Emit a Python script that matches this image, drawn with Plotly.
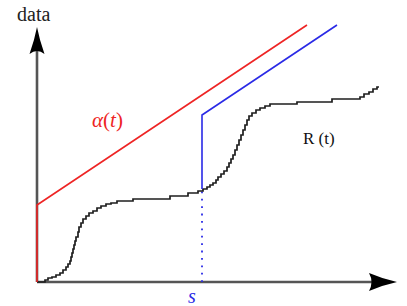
import plotly.graph_objects as go

# ---- data (units: t along horizontal, value along vertical) ----
t_R = [0, 8, 11, 15, 19, 23, 26, 29, 31, 33, 34, 35, 36, 37, 38, 39, 41, 42, 44, 46,
       49, 52, 56, 60, 64, 69, 74, 80, 96, 133, 151, 161, 166, 170, 173, 176, 179, 181,
       184, 187, 190, 192, 194, 196, 198, 200, 202, 204, 206, 208, 210, 212, 215, 219,
       223, 228, 233, 260, 295, 323, 327, 332, 336, 340, 342]
R_vals = [0, 2, 4, 5, 7, 9, 12, 15, 18, 21, 25, 29, 33, 37, 41, 45, 50, 55, 59, 63,
          66, 69, 71, 74, 76, 78, 79, 81, 83, 86, 89, 91, 93, 95, 97, 99, 102, 105,
          108, 111, 115, 119, 123, 127, 132, 137, 142, 147, 152, 157, 162, 166, 169, 172,
          174, 176, 178, 180, 183, 185, 188, 190, 193, 195, 195]

t_alpha = [0, 0, 270]
alpha_vals = [0, 77, 257]

s = 165
t_blue = [s, s, 300]
blue_vals = [93, 167, 257]

x_tip = 360   # end of horizontal axis arrow
y_tip = 255   # end of vertical axis arrow

RED = "#ee2424"
BLUE = "#2a2ae6"
SERIF = "Liberation Serif"

fig = go.Figure()
fig.add_trace(go.Scatter(x=[s, s], y=[0, blue_vals[0]], mode="lines",
                         line=dict(color=BLUE, width=1.8, dash="1.8px,5.6px"),
                         hoverinfo="skip"))
fig.add_trace(go.Scatter(x=t_R, y=R_vals, mode="lines", line_shape="hv",
                         line=dict(color="#1e1e1e", width=1.7)))
fig.add_trace(go.Scatter(x=t_alpha, y=alpha_vals, mode="lines",
                         line=dict(color=RED, width=1.6)))
fig.add_trace(go.Scatter(x=t_blue, y=blue_vals, mode="lines",
                         line=dict(color=BLUE, width=1.6)))

axis_col = "#555555"
shapes = [
    dict(type="line", x0=0, y0=0, x1=x_tip - 22, y1=0, xref="x", yref="y",
         line=dict(color=axis_col, width=2.6), layer="below"),
    dict(type="line", x0=0, y0=0, x1=0, y1=y_tip - 20, xref="x", yref="y",
         line=dict(color=axis_col, width=2.6), layer="below"),
    dict(type="path", xref="x", yref="y", fillcolor="black", line=dict(width=0),
         path=f"M {x_tip},0 Q {x_tip-14},3 {x_tip-28},9 Q {x_tip-23},0 {x_tip-28},-9 Q {x_tip-14},-3 {x_tip},0 Z"),
    dict(type="path", xref="x", yref="y", fillcolor="black", line=dict(width=0),
         path=f"M 0,{y_tip} Q 2.5,{y_tip-13} 7.5,{y_tip-27} Q 0,{y_tip-21} -7.5,{y_tip-27} Q -2.5,{y_tip-13} 0,{y_tip} Z"),
]

annotations = [
    dict(x=-4, y=268, text="data", showarrow=False, xref="x", yref="y",
         font=dict(family=SERIF, size=20, color="#222222")),
    dict(x=70, y=162, text="<i>α</i>(<i>t</i>)", showarrow=False, xref="x", yref="y",
         font=dict(family=SERIF, size=21, color=RED)),
    dict(x=282, y=144, text="R (t)", showarrow=False, xref="x", yref="y",
         font=dict(family=SERIF, size=17, color="#111111")),
    dict(x=155, y=-14, text="<i>s</i>", showarrow=False, xref="x", yref="y",
         font=dict(family=SERIF, size=20, color=BLUE)),
]

fig.update_layout(
    width=407, height=306,
    margin=dict(l=0, r=0, t=0, b=0),
    paper_bgcolor="white", plot_bgcolor="white",
    showlegend=False,
    font=dict(family=SERIF),
    xaxis=dict(range=[-37, 370], visible=False, fixedrange=True),
    yaxis=dict(range=[-24, 282], visible=False, fixedrange=True),
    shapes=shapes, annotations=annotations,
)

fig.write_html("out.html", post_script="document.body.style.margin='0';",
               config={"displayModeBar": False})
